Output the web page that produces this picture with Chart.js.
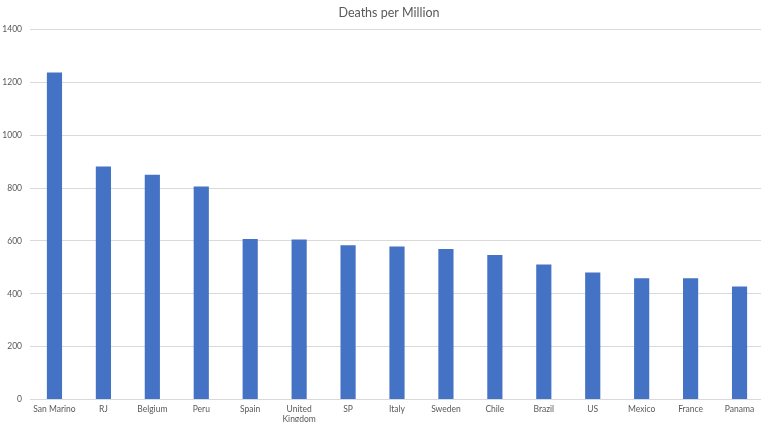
<!DOCTYPE html>
<html>
<head>
<meta charset="utf-8">
<script src="https://cdn.jsdelivr.net/npm/chart.js@4"></script>
<style>
html,body{margin:0;padding:0;background:#fff;overflow:hidden;width:761px;height:422px;}
#wrap{position:absolute;left:0;top:0;width:764px;height:422px;}
</style>
</head>
<body>
<div id="wrap"><canvas id="c" width="764" height="422"></canvas></div>
<script>
const chartTitle = "Deaths per Million";
const categories = ["San Marino","RJ","Belgium","Peru","Spain",["United","Kingdom"],"SP","Italy","Sweden","Chile","Brazil","US","Mexico","France","Panama"];
const deathsPerMillion = [1237,882,850,806,607,605,584,579,569,547,511,481,459,459,428];
const yMin = 0, yMax = 1400, yStep = 200;
const FONT = 'Lato, "Open Sans", "Liberation Sans", sans-serif';

const titlePlugin = {
  id: 'customTitle',
  afterDraw(chart) {
    const ctx = chart.ctx;
    ctx.save();
    ctx.font = '12.5px ' + FONT;
    ctx.fillStyle = '#595959';
    ctx.textAlign = 'center';
    ctx.textBaseline = 'middle';
    ctx.fillText(chartTitle, 389, 13);
    ctx.restore();
  }
};

new Chart(document.getElementById('c'), {
  type: 'bar',
  data: {
    labels: categories,
    datasets: [{
      data: deathsPerMillion,
      backgroundColor: '#4472C4',
      borderWidth: 0,
      categoryPercentage: 1,
      barPercentage: 0.31
    }]
  },
  options: {
    responsive: false,
    animation: false,
    layout: { padding: { top: 29.5, left: 0, right: 0, bottom: 0 } },
    plugins: { legend: { display: false }, title: { display: false }, tooltip: { enabled: false } },
    scales: {
      x: {
        grid: { display: false, drawTicks: false },
        border: { display: false },
        ticks: { color: '#595959', font: { size: 8.5, family: FONT, lineHeight: 1.15 }, padding: 5, maxRotation: 0, autoSkip: false },
        afterFit(s) { s.height = 22.5; }
      },
      y: {
        min: yMin, max: yMax,
        grid: { color: '#d9d9d9', drawTicks: false, lineWidth: 1 },
        border: { display: false },
        ticks: { stepSize: yStep, color: '#595959', font: { size: 8.5, family: FONT }, padding: 8, callback: v => String(v) },
        afterFit(s) { s.width = 30; }
      }
    }
  },
  plugins: [titlePlugin]
});
</script>
</body>
</html>
